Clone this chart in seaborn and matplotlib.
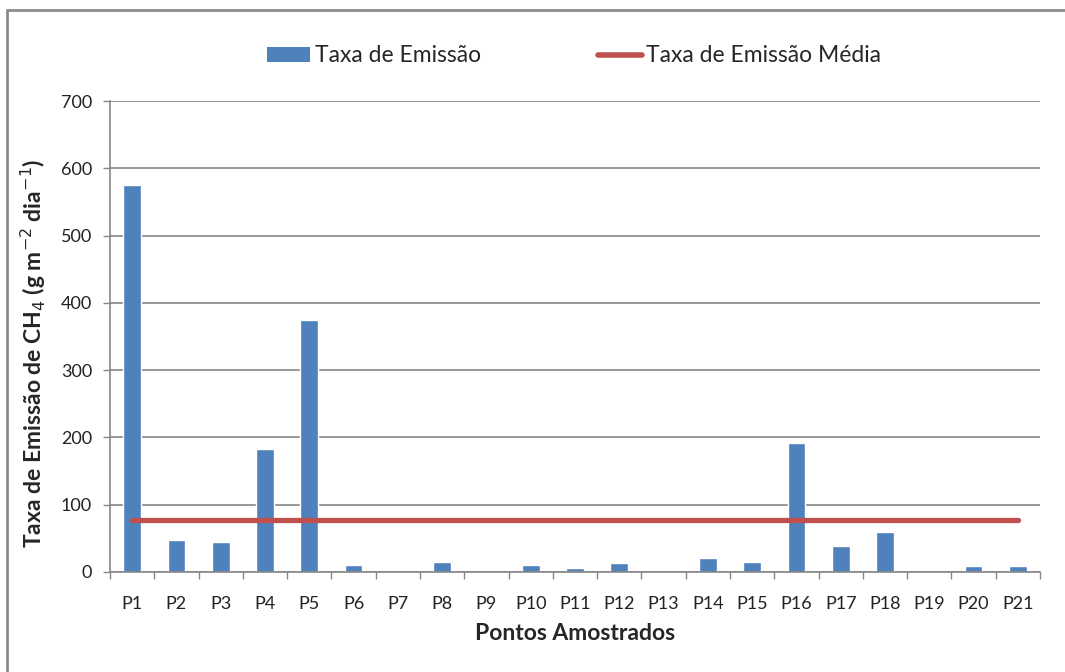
import numpy as np
import pandas as pd
import matplotlib
matplotlib.use('Agg')
import matplotlib.pyplot as plt
from matplotlib.patches import Patch
from matplotlib.lines import Line2D
import seaborn as sns

# Dados
pontos = ['P%d' % i for i in range(1, 22)]
taxa = [575, 47.5, 45, 183.5, 374, 11, 0, 15.5, 0, 11, 6,
        13.5, 3.5, 21, 15.5, 191, 38, 59.5, 0, 8.5, 8.5]
taxa_media = [77.5] * 21

azul = '#4F81BD'
vermelho = '#C0504D'
cinza = '#868686'

sns.set_theme(style='white')
plt.rcParams['font.family'] = ['Lato', 'DejaVu Sans']

df = pd.DataFrame({'Ponto': pontos, 'Taxa': taxa, 'Media': taxa_media})

fig = plt.figure(figsize=(10.65, 6.72), dpi=100)
ax = fig.add_axes([110 / 1065, 1 - 572 / 672, 930 / 1065, 471 / 672])

sns.barplot(data=df, x='Ponto', y='Taxa', color=azul, width=0.4,
            saturation=1, ax=ax)
ax.plot(np.arange(len(pontos)), df['Media'], color=vermelho, lw=3.8,
        solid_capstyle='round')

ax.set_xlim(-0.5, len(pontos) - 0.5)
ax.set_ylim(0, 700)
ax.set_yticks(range(0, 701, 100))
ax.yaxis.grid(True, color=cinza, lw=1.2)
ax.set_axisbelow(True)

for s in ['top', 'right']:
    ax.spines[s].set_visible(False)
for s in ['left', 'bottom']:
    ax.spines[s].set_color(cinza)
    ax.spines[s].set_linewidth(1.2)

ax.tick_params(axis='y', left=True, length=5, width=1, color=cinza,
               pad=8, labelsize=13, labelcolor='#222222')
ax.set_xticks(np.arange(-0.5, len(pontos), 1), minor=True)
ax.tick_params(axis='x', which='major', length=0, pad=17, labelsize=13,
               labelcolor='#222222')
ax.tick_params(axis='x', which='minor', bottom=True, length=5, width=1,
               color=cinza)

ax.set_xlabel('Pontos Amostrados', fontsize=16.5, fontweight='bold',
              labelpad=8)
ax.set_ylabel('Taxa de Emissão de CH$_4$ (g m$^{-2}$ dia$^{-1}$)',
              fontsize=16.5, fontweight='bold', labelpad=9, y=0.465)

handles = [Patch(facecolor=azul, edgecolor='none'),
           Line2D([0], [0], color=vermelho, lw=4)]
fig.legend(handles, ['Taxa de Emissão', 'Taxa de Emissão Média'],
           loc='center', bbox_to_anchor=(0.539, 1 - 56 / 672), ncol=2,
           frameon=False, fontsize=16.5, handlelength=1.9, handleheight=0.62,
           handletextpad=0.2, columnspacing=5.1)

# moldura do gráfico
fig.add_artist(Line2D([7 / 1065, 7 / 1065], [0, 1 - 10 / 672],
                      transform=fig.transFigure, color='#8C8C8C', lw=2))
fig.add_artist(Line2D([7 / 1065, 1], [1 - 10 / 672, 1 - 10 / 672],
                      transform=fig.transFigure, color='#8C8C8C', lw=2))

fig.savefig('out.png', dpi=100, facecolor='white')
